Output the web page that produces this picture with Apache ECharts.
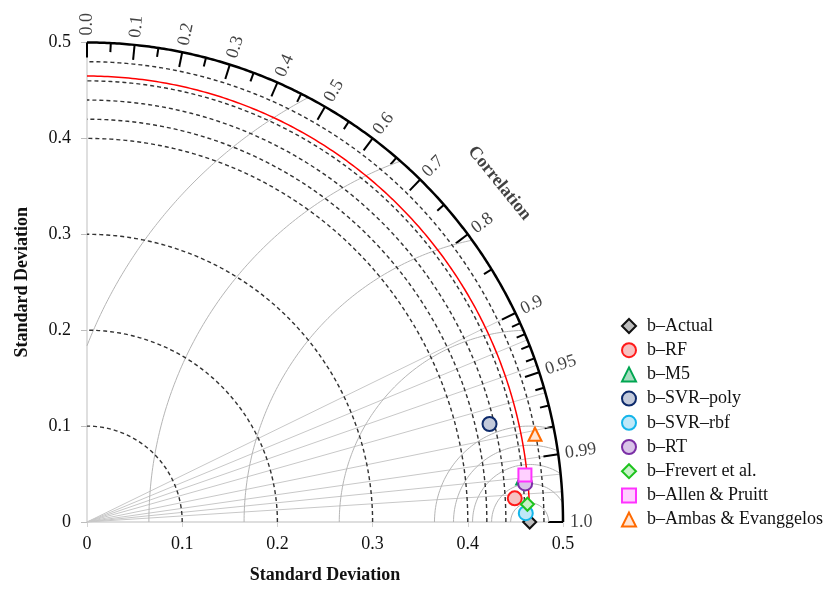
<!DOCTYPE html>
<html><head><meta charset="utf-8">
<script src="https://cdn.jsdelivr.net/npm/echarts@6/dist/echarts.min.js"></script>
<style>html,body{margin:0;padding:0;background:#fff}#c{width:832px;height:589px}</style>
</head><body><div id="c"></div>
<script>
// ---- data ----
const refStd = 0.465;
const maxStd = 0.5;
const stdTicks = [0, 0.1, 0.2, 0.3, 0.4, 0.5];
const majorCorr = [0, 0.1, 0.2, 0.3, 0.4, 0.5, 0.6, 0.7, 0.8, 0.9, 0.95, 0.99, 1.0];
const majorCorrLabels = ['0.0','0.1','0.2','0.3','0.4','0.5','0.6','0.7','0.8','0.9','0.95','0.99','1.0'];
const minorCorr = [0.05, 0.15, 0.25, 0.35, 0.45, 0.55, 0.65, 0.75, 0.85, 0.91, 0.92, 0.93, 0.94, 0.96, 0.97, 0.98];
const gridCorr = [0.9, 0.925, 0.945, 0.963, 0.98, 0.99, 0.995, 0.998];
const stdArcs = [0.1, 0.2, 0.3, 0.4, 0.42, 0.44, 0.46, 0.48];
const rmsdArcs = [0.02, 0.04, 0.06, 0.08, 0.1, 0.2, 0.3, 0.4, 0.5];
const modelNames = ['b\u2013Actual','b\u2013RF','b\u2013M5','b\u2013SVR\u2013poly','b\u2013SVR\u2013rbf','b\u2013RT','b\u2013Frevert et al.','b\u2013Allen & Pruitt','b\u2013Ambas & Evanggelos'];
const modelStd  = [0.465, 0.450, 0.460, 0.435, 0.461, 0.462, 0.463, 0.4626, 0.4794];
const modelCorr = [1.0, 0.9985, 0.995, 0.972, 0.9998, 0.9962, 0.9992, 0.9944, 0.9816];

// ---- styles ----
const modelStyles = [
  {symbol:'diamond', border:'#111111', fill:'#bdbdbd', size:13},
  {symbol:'circle', border:'#ff1a1a', fill:'#f6c1c1', size:14},
  {symbol:'triangle', border:'#00a651', fill:'#a8dcc0', size:13},
  {symbol:'circle', border:'#0d2a6b', fill:'#c3cadb', size:14},
  {symbol:'circle', border:'#13b5ea', fill:'#bfe8f8', size:14},
  {symbol:'circle', border:'#7b2fa6', fill:'#d9c4e8', size:14},
  {symbol:'diamond', border:'#1ec31e', fill:'#c9f2c9', size:13},
  {symbol:'rect', border:'#ff33ff', fill:'#ffd0ff', size:13},
  {symbol:'triangle', border:'#ff6a00', fill:'#ffe6d6', size:13}
];
const FONT = 'Liberation Serif';
const PX_PER_UNIT = 955;

function pol(r, c) { return [r * c, r * Math.sqrt(Math.max(0, 1 - c * c))]; }
function arc(r, n) { const pts = []; for (let i = 0; i <= n; i++) { const a = Math.PI / 2 * i / n; pts.push([r * Math.cos(a), r * Math.sin(a)]); } return pts; }
function rmsd(r) {
  let c1 = (maxStd*maxStd - refStd*refStd - r*r) / (2*refStd*r);
  c1 = Math.max(-1, Math.min(1, c1));
  const p1 = Math.acos(c1);
  const p2 = Math.acos(Math.max(-1, -refStd / r));
  const pts = [];
  const n = 120;
  for (let i = 0; i <= n; i++) { const p = p1 + (p2 - p1) * i / n; pts.push([refStd + r*Math.cos(p), r*Math.sin(p)]); }
  return pts;
}
const lineBase = {type:'line', showSymbol:false, symbol:'none', silent:true, animation:false, clip:false};
const series = [];
rmsdArcs.forEach(r => series.push(Object.assign({}, lineBase, {data: rmsd(r), lineStyle:{color:'#b5b5b5', width:1}})));
series.push({type:'lines', coordinateSystem:'cartesian2d', silent:true, animation:false,
  data: gridCorr.map(c => ({coords:[[0,0], pol(maxStd, c)]})), lineStyle:{color:'#c8c8c8', width:1, opacity:1}});
stdArcs.forEach(r => series.push(Object.assign({}, lineBase, {data: arc(r, 200), lineStyle:{color:'#333', width:1.4, type:[4,3]}})));
series.push(Object.assign({}, lineBase, {data: arc(refStd, 200), lineStyle:{color:'#ff0000', width:1.5}}));
series.push(Object.assign({}, lineBase, {data: arc(maxStd, 300), lineStyle:{color:'#000', width:2.5}}));
series.push({type:'lines', coordinateSystem:'cartesian2d', silent:true, animation:false,
  data: majorCorr.map(c => ({coords:[pol(maxStd - 15/PX_PER_UNIT, c), pol(maxStd, c)]}))
    .concat(minorCorr.map(c => ({coords:[pol(maxStd - 9/PX_PER_UNIT, c), pol(maxStd, c)]}))),
  lineStyle:{color:'#000', width:2, opacity:1}});
// correlation tick labels
function textW(s) { let w = 0; for (const ch of s) w += (ch === '.') ? 4.5 : 9; return w; }
series.push({type:'scatter', silent:true, animation:false, clip:false, symbolSize:0, z:5,
  data: majorCorr.map((c, i) => {
    const r = maxStd + (7 + textW(majorCorrLabels[i]) / 2) / PX_PER_UNIT;
    const deg = Math.acos(c) * 180 / Math.PI;
    return {value: pol(r, c), label:{show:true, formatter: majorCorrLabels[i], rotate: deg, position:'inside', align:'center', verticalAlign:'middle', fontFamily:FONT, fontSize:18, color:'#111'}};
  })
});
series.push({type:'scatter', silent:true, animation:false, clip:false, symbolSize:0, z:5,
  data:[{value: pol(0.559, Math.cos(39.2*Math.PI/180)), label:{show:true, formatter:'Correlation', rotate:-51, position:'inside', align:'center', verticalAlign:'middle', fontFamily:FONT, fontSize:18, fontWeight:'bold', color:'#111'}}]});
// models
modelNames.forEach((name, i) => {
  const s = modelStyles[i];
  series.push({type:'scatter', name:name, animation:false, clip:false, z:10 + i,
    symbol:s.symbol, symbolSize:s.size, symbolKeepAspect:true,
    itemStyle:{color:s.fill, borderColor:s.border, borderWidth:2, opacity:1},
    data:[pol(modelStd[i], modelCorr[i])]});
});

const chart = echarts.init(document.getElementById('c'), null, {renderer:'canvas'});
const fmt = v => v === 0 ? '0' : v.toFixed(1);
chart.setOption({
  animation:false,
  backgroundColor:'#fff',
  textStyle:{fontFamily:FONT},
  grid:{left:87, top:42.5, width:476, height:481.5, containLabel:false},
  xAxis:{type:'value', min:0, max:0.5, interval:0.1,
    name:'Standard Deviation', nameLocation:'middle', nameGap:44,
    nameTextStyle:{fontFamily:FONT, fontSize:18, fontWeight:'bold', color:'#111'},
    axisLine:{show:true, lineStyle:{color:'#d4d4d4', width:1.5}},
    axisTick:{show:true, length:5, lineStyle:{color:'#d4d4d4'}},
    axisLabel:{formatter:fmt, fontFamily:FONT, fontSize:18, color:'#111', margin:13},
    splitLine:{show:false}},
  yAxis:{type:'value', min:0, max:0.5, interval:0.1,
    name:'Standard Deviation', nameLocation:'middle', nameGap:56,
    nameTextStyle:{fontFamily:FONT, fontSize:18, fontWeight:'bold', color:'#111'},
    axisLine:{show:true, lineStyle:{color:'#d4d4d4', width:1.5}},
    axisTick:{show:true, length:6, lineStyle:{color:'#bdbdbd'}},
    axisLabel:{formatter:fmt, fontFamily:FONT, fontSize:18, color:'#111', margin:16},
    splitLine:{show:false}},
  legend:{data: modelNames, orient:'vertical', left:616, top:312, itemWidth:14, itemHeight:14, itemGap:6.2,
    textStyle:{fontFamily:FONT, fontSize:18, color:'#111', padding:[0,0,0,6]}, selectedMode:false},
  series: series
});
</script></body></html>
